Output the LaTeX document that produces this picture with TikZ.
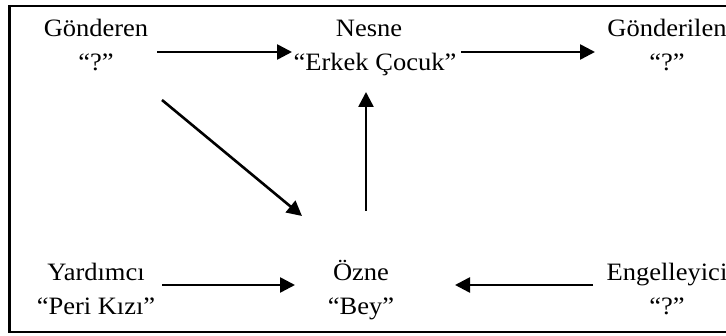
\documentclass[tikz,border=0pt]{standalone}
\usepackage{fontspec}
\setmainfont{Liberation Serif}[FakeStretch=1.06]
\usetikzlibrary{arrows.meta}
\begin{document}
\begin{tikzpicture}[x=1pt,y=1pt,
  actor/.style={align=center,anchor=base,inner sep=0pt,font=\fontsize{25}{34}\selectfont},
  conn/.style={line width=2.6pt,-{Triangle[length=15pt,width=15pt]}}]
\useasboundingbox (0,0) rectangle (726,336);
\draw[line width=2.6pt] (740,330) -- (9.5,330) -- (9.5,4) -- (740,4);
% nodes (base = last line baseline)
\node[actor] (gon) at (96,265) {Gönderen\\“?”};
\node[actor] (nes) at (375,265) {\hspace*{-12pt}Nesne\\“Erkek Çocuk”};
\node[actor] (gnl) at (667,265) {Gönderilen\\“?”};
\node[actor] (yar) at (96,21) {Yardımcı\\“Peri Kızı”};
\node[actor] (ozn) at (361,21) {Özne\\“Bey”};
\node[actor] (eng) at (667,21) {Engelleyici\\“?”};
% connector ends
\coordinate (g1) at (157,284); \coordinate (n1) at (292,284);
\coordinate (n2) at (461,284); \coordinate (l1) at (595,284);
\coordinate (g2) at (162,236); \coordinate (o1) at (302,120);
\coordinate (o2) at (366,125); \coordinate (n3) at (366,244);
\coordinate (y1) at (162,51); \coordinate (o3) at (295,51);
\coordinate (e1) at (593,51); \coordinate (o4) at (455,51);
\draw[conn] (g1) -- (n1);
\draw[conn] (n2) -- (l1);
\draw[conn] (g2) -- (o1);
\draw[conn] (o2) -- (n3);
\draw[conn] (y1) -- (o3);
\draw[conn] (e1) -- (o4);
\end{tikzpicture}
\end{document}
